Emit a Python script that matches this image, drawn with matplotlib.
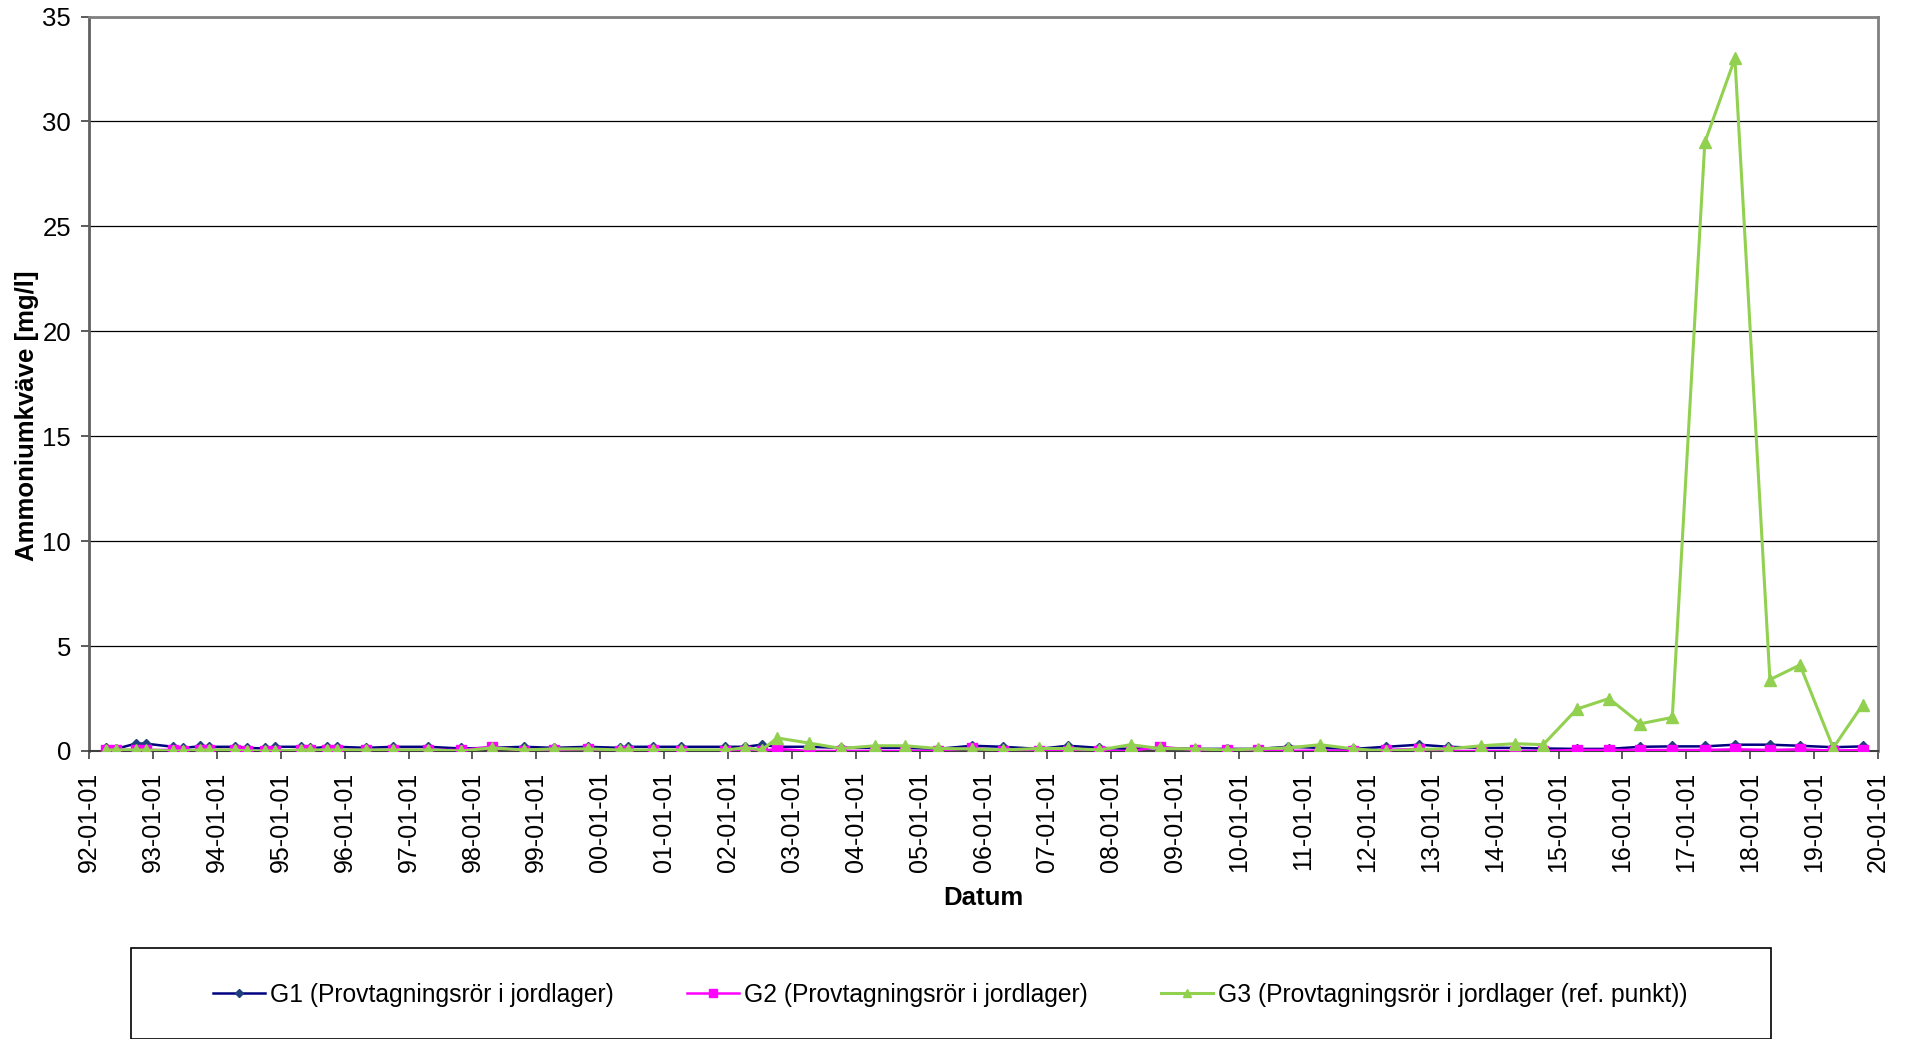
import numpy as np
import matplotlib
matplotlib.use("Agg")
import matplotlib.pyplot as plt
import matplotlib.dates as mdates
from matplotlib.patches import Rectangle

plt.rcParams['font.family'] = ['Liberation Sans', 'DejaVu Sans']

dates = [
    "1992-04-05", "1992-06-03", "1992-09-24", "1992-11-20",
    "1993-04-27", "1993-06-20", "1993-09-27", "1993-11-17",
    "1994-04-16", "1994-06-20", "1994-10-01", "1994-12-01",
    "1995-04-27", "1995-06-18", "1995-09-24", "1995-11-17",
    "1996-05-05", "1996-10-05",
    "1997-04-23", "1997-10-30",
    "1998-04-20", "1998-10-23",
    "1999-04-13", "1999-10-23",
    "2000-04-23", "2000-06-06", "2000-10-27",
    "2001-04-09", "2001-12-13",
    "2002-04-09", "2002-07-13", "2002-10-09",
    "2003-04-09", "2003-10-09",
    "2004-04-23", "2004-10-09",
    "2005-04-13", "2005-10-27",
    "2006-04-23", "2006-11-13",
    "2007-04-27", "2007-10-23",
    "2008-04-20", "2008-10-05",
    "2009-04-23", "2009-10-23",
    "2010-04-20", "2010-10-09",
    "2011-04-09", "2011-10-16",
    "2012-04-20", "2012-10-27",
    "2013-04-09", "2013-10-16",
    "2014-04-27", "2014-10-05",
    "2015-04-16", "2015-10-16",
    "2016-04-13", "2016-10-12",
    "2017-04-16", "2017-10-05",
    "2018-04-23", "2018-10-12",
    "2019-04-20", "2019-10-05",
]

g1 = [0.15, 0.10, 0.35, 0.35,
      0.20, 0.15, 0.22, 0.20,
      0.20, 0.15, 0.12, 0.20,
      0.20, 0.12, 0.20, 0.20,
      0.15, 0.20,
      0.20, 0.12,
      0.15, 0.20,
      0.15, 0.20,
      0.15, 0.20, 0.20,
      0.20, 0.20,
      0.20, 0.30, 0.20,
      0.20, 0.15,
      0.15, 0.15,
      0.10, 0.25,
      0.20, 0.10,
      0.25, 0.15,
      0.10, 0.15,
      0.10, 0.10,
      0.10, 0.20,
      0.15, 0.10,
      0.20, 0.30,
      0.20, 0.15,
      0.15, 0.12,
      0.10, 0.10,
      0.20, 0.22,
      0.22, 0.30,
      0.30, 0.25,
      0.18, 0.22]

g2 = [0.05, 0.05, 0.05, 0.05,
      0.05, 0.00, 0.05, 0.05,
      0.05, 0.00, 0.00, 0.00,
      0.05, 0.05, 0.05, 0.05,
      0.05, 0.05,
      0.05, 0.05,
      0.20, 0.00,
      0.05, 0.10,
      0.00, 0.00, 0.05,
      0.00, 0.00,
      0.00, 0.00, 0.10,
      0.00, 0.00,
      0.00, 0.00,
      0.00, 0.15,
      0.00, 0.00,
      0.00, 0.00,
      0.00, 0.20,
      0.05, 0.05,
      0.05, 0.00,
      0.02, 0.00,
      0.05, 0.10,
      0.00, 0.00,
      0.00, 0.00,
      0.05, 0.05,
      0.05, 0.05,
      0.05, 0.08,
      0.05, 0.08,
      0.02, 0.05]

g3 = [0.05, 0.05, 0.05, 0.05,
      0.00, 0.00, 0.05, 0.05,
      0.05, 0.00, 0.00, 0.00,
      0.05, 0.05, 0.05, 0.05,
      0.05, 0.05,
      0.05, 0.00,
      0.15, 0.05,
      0.10, 0.10,
      0.05, 0.05, 0.05,
      0.05, 0.05,
      0.15, 0.05, 0.62,
      0.38, 0.12,
      0.25, 0.25,
      0.12, 0.10,
      0.05, 0.12,
      0.12, 0.05,
      0.30, 0.12,
      0.10, 0.05,
      0.10, 0.15,
      0.30, 0.10,
      0.00, 0.08,
      0.10, 0.25,
      0.35, 0.30,
      2.0, 2.5,
      1.3, 1.6,
      29.0, 33.0,
      3.4, 4.1,
      0.15, 2.2]

labels = ["G1 (Provtagningsrör i jordlager)",
          "G2 (Provtagningsrör i jordlager)",
          "G3 (Provtagningsrör i jordlager (ref. punkt))"]
yticks = [0, 5, 10, 15, 20, 25, 30, 35]
x_start, x_end = "1992-01-01", "2020-01-01"

W, H = 1907, 1039
fig = plt.figure(figsize=(W / 100, H / 100), dpi=100)
L, R, T, B = 89, 1878, 16.5, 751
ax = fig.add_axes([L / W, 1 - B / H, (R - L) / W, (B - T) / H])

x = np.array(dates, dtype="datetime64[D]")
l1, = ax.plot(x, g1, color="#000080", lw=1.8, marker="D", markersize=5,
              markerfacecolor="#1f3f7f", markeredgecolor="#1f3f7f", zorder=3)
l2, = ax.plot(x, g2, color="#ff00ff", lw=1.8, marker="s", markersize=6.5,
              markerfacecolor="#ff00ff", markeredgecolor="#ff00ff", zorder=4)
l3, = ax.plot(x, g3, color="#92d050", lw=2.2, marker="^", markersize=8,
              markerfacecolor="#92d050", markeredgecolor="#92d050", zorder=5)

ax.set_xlim(np.datetime64(x_start), np.datetime64(x_end))
ax.set_ylim(0, 35)
ax.set_yticks(yticks)
ax.xaxis.set_major_locator(mdates.YearLocator())
ax.xaxis.set_major_formatter(mdates.DateFormatter("%y-%m-%d"))
ax.grid(axis="y", color="#000000", lw=0.9, zorder=1)
ax.set_axisbelow(True)

ax.tick_params(axis="x", direction="out", length=6, width=1.2, color="#404040",
               labelsize=18, pad=9, labelrotation=90)
ax.tick_params(axis="y", direction="out", length=6, width=1.2, color="#404040",
               labelsize=18.5, pad=7)
for s in ["top", "right"]:
    ax.spines[s].set_color("#808080")
    ax.spines[s].set_linewidth(2)
ax.spines["left"].set_color("#606060")
ax.spines["left"].set_linewidth(2)
ax.spines["bottom"].set_color("#404040")
ax.spines["bottom"].set_linewidth(1.5)

ax.set_ylabel("Ammoniumkväve [mg/l]", fontsize=18.5, fontweight="bold")
ax.yaxis.set_label_coords((27 - L) / (R - L), 1 - (416 - T) / (B - T))
ax.yaxis.label.set_va("center")
ax.set_xlabel("Datum", fontsize=18.5, fontweight="bold")
ax.xaxis.set_label_coords(0.5, -(898 - B) / (B - T))
ax.xaxis.label.set_va("center")

# legend box
fig.patches.append(Rectangle((131 / W, 0), (1771 - 131) / W, 1 - 948 / H,
                             transform=fig.transFigure, fill=False,
                             edgecolor="#000000", lw=1.2))
fig.legend([l1, l2, l3], labels, ncol=3, frameon=False, fontsize=17.7,
           loc="center left", bbox_to_anchor=(213 / W, 1 - 995 / H),
           borderaxespad=0, borderpad=0, handlelength=2.1, handletextpad=0.2,
           columnspacing=3.0, markerscale=0.8)

fig.savefig("out.png", dpi=100)
